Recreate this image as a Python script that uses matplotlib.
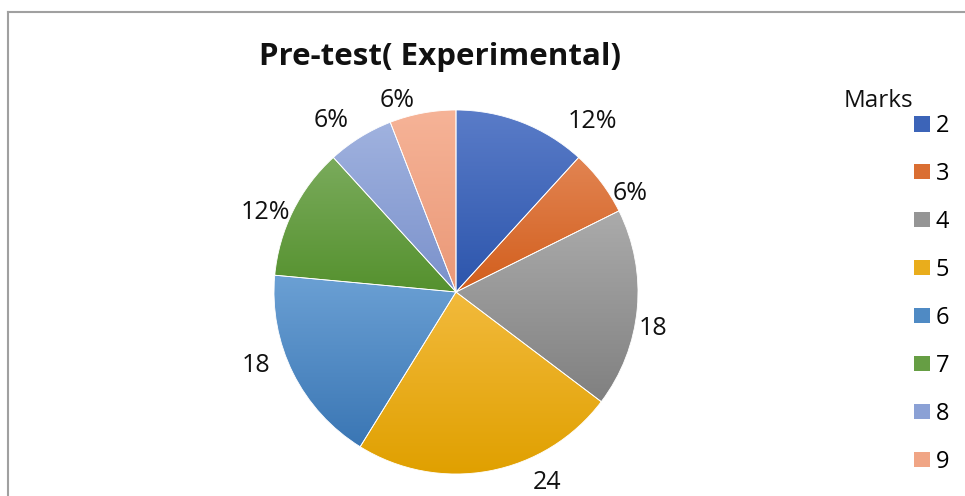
import numpy as np
import matplotlib
matplotlib.use("Agg")
import matplotlib.pyplot as plt
from matplotlib.colors import LinearSegmentedColormap
from matplotlib.patches import Rectangle

# data
marks = ["2", "3", "4", "5", "6", "7", "8", "9"]
counts = [12, 6, 18, 24, 18, 12, 6, 6]
label_text = ["12%", "6%", "18", "24", "18", "12%", "6%", "6%"]

# colours: (top, bottom) of each slice gradient
light = ["#5a7cc8", "#e28452", "#ababab", "#f2ba3c", "#6ba0d4", "#7aab5c", "#a0b2df", "#f6b397"]
dark = ["#2c55ac", "#d25e1c", "#808080", "#e0a000", "#3a76b4", "#55912e", "#7a91cb", "#ea9877"]
solid = ["#3c64b8", "#da6e32", "#959595", "#e9ad1c", "#4f8ac4", "#669e44", "#8ba1d5", "#f0a585"]

# label placement (radius, angle in degrees) picked to match the picture
label_pos = [(1.20, 51.5), (1.10, 29.6), (1.10, -10.4), (1.16, -64.4),
             (1.17, -159.7), (1.135, 157.5), (1.165, 126.2), (1.10, 107.1)]

plt.rcParams['font.family'] = ['Open Sans', 'DejaVu Sans']

W, H = 965, 496
fig = plt.figure(figsize=(W / 100, H / 100), dpi=100)

# grey chart frame
fig.add_artist(plt.Line2D([8 / W, 8 / W], [0, 1 - 12 / H], color="#a0a0a0", lw=1.5))
fig.add_artist(plt.Line2D([8 / W, 1], [1 - 12 / H, 1 - 12 / H], color="#a0a0a0", lw=1.5))

cx, cy, R = 456, 292, 182
ax = fig.add_axes([(cx - R) / W, (H - cy - R) / H, 2 * R / W, 2 * R / H])
wedges, _ = ax.pie(counts, startangle=90, counterclock=False, radius=1,
                   wedgeprops=dict(edgecolor="white", linewidth=0.6))

grad = np.linspace(0, 1, 256).reshape(-1, 1)
for w, c1, c2 in zip(wedges, light, dark):
    w.set_facecolor("none")
    ext = w.get_path().get_extents()
    cmap = LinearSegmentedColormap.from_list("g", [c1, c2])
    im = ax.imshow(grad, cmap=cmap, extent=[ext.x0, ext.x1, ext.y0, ext.y1],
                   origin="upper", aspect="auto", interpolation="bilinear", zorder=0)
    im.set_clip_path(w)

for txt, (r, a) in zip(label_text, label_pos):
    ax.text(r * np.cos(np.radians(a)), r * np.sin(np.radians(a)), txt,
            ha="center", va="center", fontsize=18, color="#111111")

ax.set_xlim(-1, 1)
ax.set_ylim(-1, 1)
ax.set_aspect("equal")
ax.axis("off")

fig.text(440 / W, 1 - 57 / H, "Pre-test( Experimental)", ha="center", va="center",
         fontsize=22.5, fontweight="bold", color="#111111")

# legend
fig.text(844 / W, 1 - 101 / H, "Marks", ha="left", va="center", fontsize=17.5, color="#111111")
handles = [Rectangle((0, 0), 1, 1, facecolor=c, edgecolor="none") for c in solid]
leg = fig.legend(handles, marks, loc="upper left", bbox_to_anchor=(914 / W, 1 - 114 / H),
                 frameon=False, fontsize=17, handlelength=0.68, handleheight=0.64,
                 handletextpad=0.25, labelspacing=1.015, borderpad=0, borderaxespad=0)

fig.savefig("out.png", dpi=100)
